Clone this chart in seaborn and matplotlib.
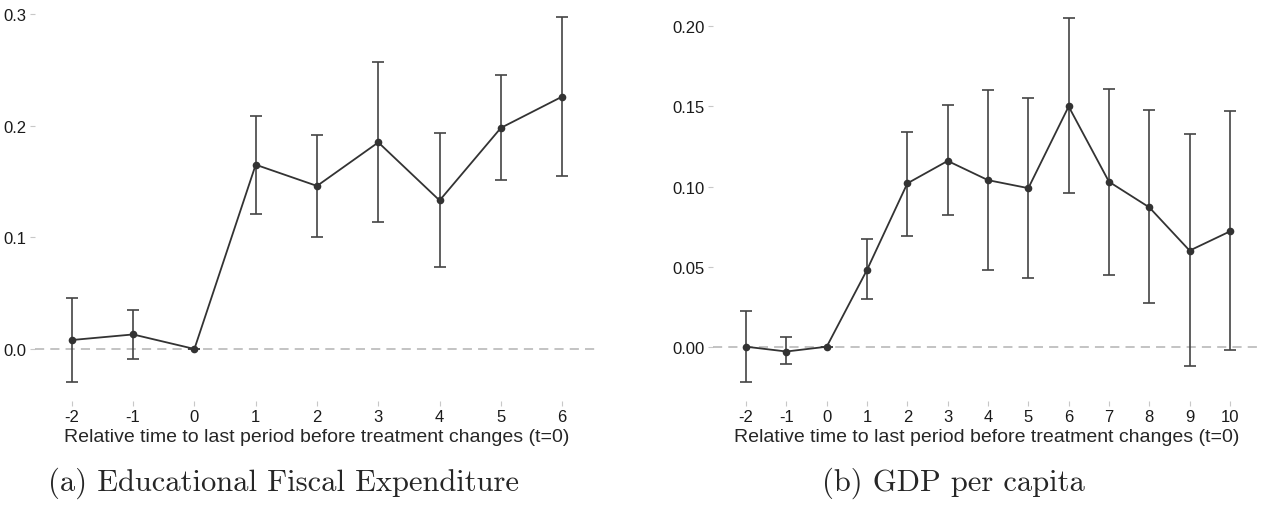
import matplotlib
matplotlib.use("Agg")
import matplotlib.pyplot as plt
import seaborn as sns
import pandas as pd
import numpy as np

# Panel (a): Educational Fiscal Expenditure
edu_t = [-2, -1, 0, 1, 2, 3, 4, 5, 6]
edu_est = [0.008, 0.013, 0.0, 0.165, 0.146, 0.185, 0.133, 0.198, 0.226]
edu_lo = [-0.030, -0.009, 0.0, 0.121, 0.100, 0.114, 0.073, 0.151, 0.155]
edu_hi = [0.046, 0.035, 0.0, 0.209, 0.192, 0.257, 0.193, 0.245, 0.297]
edu_yticks = [0.0, 0.1, 0.2, 0.3]
edu_yticklabels = ["0.0", "0.1", "0.2", "0.3"]

# Panel (b): GDP per capita
gdp_t = [-2, -1, 0, 1, 2, 3, 4, 5, 6, 7, 8, 9, 10]
gdp_est = [0.0, -0.003, 0.0, 0.048, 0.102, 0.116, 0.104, 0.099, 0.150, 0.103, 0.087, 0.060, 0.072]
gdp_lo = [-0.022, -0.011, 0.0, 0.030, 0.069, 0.082, 0.048, 0.043, 0.096, 0.045, 0.027, -0.012, -0.002]
gdp_hi = [0.022, 0.006, 0.0, 0.067, 0.134, 0.151, 0.160, 0.155, 0.205, 0.161, 0.148, 0.133, 0.147]
gdp_yticks = [0.0, 0.05, 0.10, 0.15, 0.20]
gdp_yticklabels = ["0.00", "0.05", "0.10", "0.15", "0.20"]

xlabel = "Relative time to last period before treatment changes (t=0)"
captions = ["(a) Educational Fiscal Expenditure", "(b) GDP per capita"]

sns.set_theme(style="white")
plt.rcParams["font.family"] = ["Liberation Sans", "DejaVu Sans"]

fig = plt.figure(figsize=(12.61, 5.06), dpi=100)
ax1 = fig.add_axes([35 / 1261, 1 - 402 / 506, (599 - 35) / 1261, 402 / 506])
ax2 = fig.add_axes([713 / 1261, 1 - 402 / 506, 1 - 713 / 1261, 402 / 506])

line_col = "#333333"
err_col = "#444444"

def draw(ax, t, est, lo, hi, yticks, yticklabels, xlim, ylim):
    df = pd.DataFrame({"t": t, "est": est, "lo": lo, "hi": hi})
    ax.axhline(0, color="#b3b3b3", lw=1.1, ls=(0, (6, 4)), zorder=1)
    ax.errorbar(df["t"], df["est"],
                yerr=[df["est"] - df["lo"], df["hi"] - df["est"]],
                fmt="none", ecolor=err_col, elinewidth=1.2, capsize=4.3,
                capthick=1.2, zorder=2)
    sns.lineplot(data=df, x="t", y="est", ax=ax, color=line_col, lw=1.3,
                 marker="o", markersize=5.5, markeredgewidth=0,
                 markerfacecolor=line_col, zorder=3)
    ax.set_xlim(*xlim)
    ax.set_ylim(*ylim)
    ax.set_xticks(t)
    ax.set_xticklabels([str(v) for v in t])
    ax.set_yticks(yticks)
    ax.set_yticklabels(yticklabels)
    ax.set_xlabel(xlabel, fontsize=14, labelpad=3)
    ax.set_ylabel("")
    for s in ax.spines.values():
        s.set_visible(False)
    ax.tick_params(axis="both", which="major", length=3.5, width=0.8,
                   color="#c8c8c8", labelsize=12, labelcolor="#1a1a1a",
                   pad=2.5, bottom=True, left=True)
    ax.grid(False)
    ax.set_facecolor("none")

draw(ax1, edu_t, edu_est, edu_lo, edu_hi, edu_yticks, edu_yticklabels,
     (-2.6, 6.6), (-0.0466, 0.3134))
draw(ax2, gdp_t, gdp_est, gdp_lo, gdp_hi, gdp_yticks, gdp_yticklabels,
     (-2.82, 10.77), (-0.0339, 0.2171))

fig.text(283 / 1261, 1 - 483 / 506, captions[0], ha="center", va="center",
         fontsize=22, family="cmr10")
fig.text(953 / 1261, 1 - 483 / 506, captions[1], ha="center", va="center",
         fontsize=22, family="cmr10")

fig.savefig("out.png", dpi=100, facecolor="white")
